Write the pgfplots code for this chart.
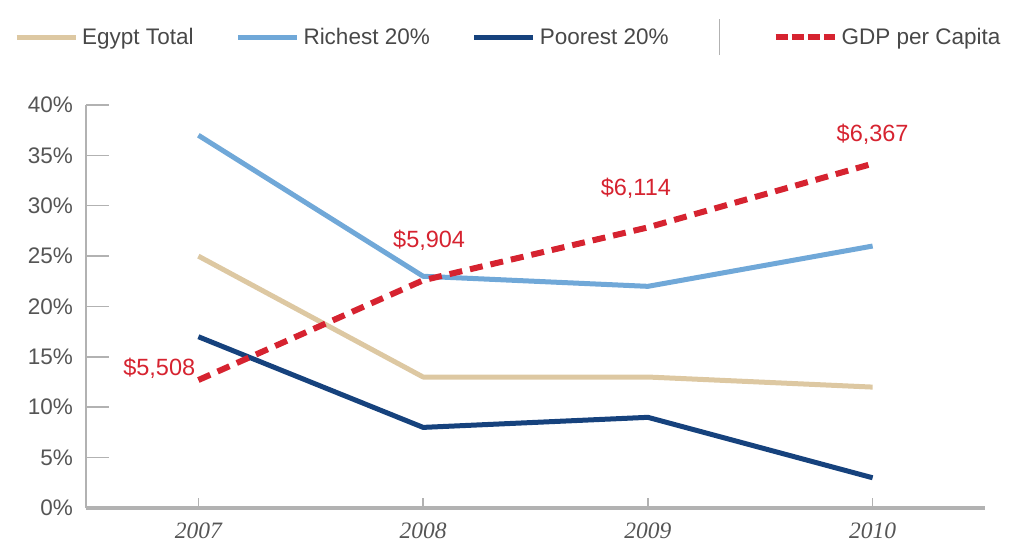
\documentclass[border=0pt]{standalone}
\usepackage{pgfplots}
\pgfplotsset{compat=1.18}
\usepackage{fontspec}
\setmainfont{Liberation Sans}
\newfontfamily\timesfont{Liberation Serif}

\definecolor{egypttan}{RGB}{221,200,162}
\definecolor{richblue}{RGB}{112,168,216}
\definecolor{poornavy}{RGB}{22,66,125}
\definecolor{gdpred}{RGB}{214,35,48}
\definecolor{axisgray}{RGB}{178,178,178}
\definecolor{labelgray}{RGB}{85,85,85}
\definecolor{legtext}{RGB}{72,72,72}

\begin{document}
\begin{tikzpicture}
\useasboundingbox (0,0) rectangle (1011bp,546bp);

\pgfplotsset{
  chartbase/.style={
    scale only axis, width=899bp, height=403bp,
    at={(86bp,38bp)}, anchor=south west,
    xmin=2006.5, xmax=2010.5,
    clip=false,
    tick align=inside,
  },
}

% percentages
\begin{axis}[chartbase,
  ymin=0, ymax=40,
  axis x line*=bottom, axis y line*=left,
  x axis line style={-, axisgray, line width=3bp},
  y axis line style={-, axisgray, line width=1.5bp},
  xtick=\empty,
  ytick={0,5,...,40},
  yticklabels={0\%,5\%,10\%,15\%,20\%,25\%,30\%,35\%,40\%},
  major tick length=23bp,
  tick style={axisgray, line width=1.5bp},
  yticklabel style={font=\fontsize{22.5bp}{26bp}\selectfont, text=labelgray, inner sep=0pt, xshift=-13bp},
  legend columns=5,
  legend cell align=left,
  legend image code/.code={\draw[#1] (0bp,0bp) -- (59bp,0bp);},
  legend style={at={(-0.0801,1.1687)}, anchor=west, draw=none, fill=none,
    inner sep=0pt, font=\fontsize{22.5bp}{26bp}\selectfont, text=legtext,
    nodes={inner sep=0pt},
    /tikz/every odd column/.append style={column sep=4bp},
    /tikz/every even column/.append style={column sep=42bp}},
]
\addplot[egypttan, line width=5bp, line join=round]
  coordinates {(2007,25) (2008,13) (2009,13) (2010,12)};
\addlegendentry{Egypt Total}
\addplot[richblue, line width=5bp, line join=round]
  coordinates {(2007,37) (2008,23) (2009,22) (2010,26)};
\addlegendentry{Richest 20\%}
\addplot[poornavy, line width=5bp, line join=round]
  coordinates {(2007,17) (2008,8) (2009,9) (2010,3)};
\addlegendentry{Poorest 20\%}
\addlegendimage{legend image code/.code={\draw[draw=none] (0bp,0bp) -- (15bp,0bp); \draw[axisgray, line width=1.2bp] (9bp,-18bp) -- (9bp,18bp);}}
\addlegendentry{}
\addlegendimage{gdpred, line width=6bp, dash pattern=on 12bp off 4bp}
\addlegendentry{GDP per Capita}
\end{axis}

% GDP per capita (dollars)
\begin{axis}[chartbase,
  ymin=5000, ymax=6600,
  axis x line*=bottom, axis y line=none,
  x axis line style={draw=none},
  ytick=\empty,
  xtick={2007,2008,2009,2010},
  xticklabels={2007,2008,2009,2010},
  major tick length=10bp,
  tick style={axisgray, line width=1.5bp},
  xticklabel style={font=\timesfont\itshape\fontsize{23.5bp}{26bp}\selectfont, text=labelgray, inner sep=0pt, anchor=north, yshift=-15bp},
]
\addplot[gdpred, line width=6bp, dash pattern=on 13bp off 8bp]
  coordinates {(2007,5508) (2008,5904) (2009,6114) (2010,6367)};
\node[gdpred, font=\fontsize{23.5bp}{26bp}\selectfont, inner sep=0pt, anchor=east, xshift=-3bp, yshift=12bp] at (axis cs:2007,5508) {\$5,508};
\node[gdpred, font=\fontsize{23.5bp}{26bp}\selectfont, inner sep=0pt, xshift=6bp, yshift=40bp] at (axis cs:2008,5904) {\$5,904};
\node[gdpred, font=\fontsize{23.5bp}{26bp}\selectfont, inner sep=0pt, xshift=-12bp, yshift=39bp] at (axis cs:2009,6114) {\$6,114};
\node[gdpred, font=\fontsize{23.5bp}{26bp}\selectfont, inner sep=0pt, yshift=29bp] at (axis cs:2010,6367) {\$6,367};
\end{axis}
\end{tikzpicture}
\end{document}
